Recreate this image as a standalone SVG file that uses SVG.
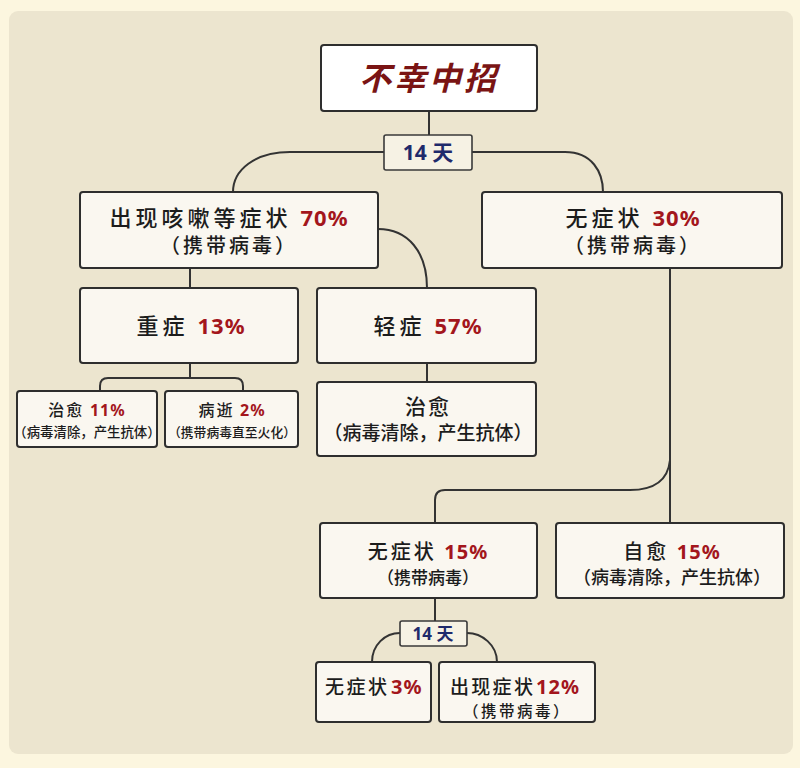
<svg xmlns="http://www.w3.org/2000/svg" width="800" height="768" viewBox="0 0 800 768">
<style>
.box{fill:#faf7f0;stroke:#2e2e2e;stroke-width:2}
.lbl{fill:#f6f2e4;stroke:#3a3a3a;stroke-width:1.6}
.t{font-family:"Noto Sans CJK SC",sans-serif;fill:#1c1c1c;font-weight:500}
.n{font-family:"Noto Sans","Noto Sans CJK SC",sans-serif;font-weight:700;fill:#a3161c;letter-spacing:1px}
.d{font-family:"Noto Sans","Noto Sans CJK SC",sans-serif;font-weight:700;fill:#1f2a6b}
#connectors path{fill:none;stroke:#333;stroke-width:2}
</style>
<rect x="0" y="0" width="800" height="768" fill="#fcf6df"/>
<rect x="9" y="11" width="784" height="743" rx="9" fill="#ece5cf"/>

<g id="connectors">
<path d="M429,111 V135"/>
<path d="M384,152 H290 C255,152 233,170 233,192"/>
<path d="M472,152 H565 C592,152 603,172 603,192"/>
<path d="M378,229 C408,229 427,252 427,288"/>
<path d="M190,268 V288"/>
<path d="M427,363 V382"/>
<path d="M190,363 V378 M100,391 V386 Q100,378 108,378 H235 Q243,378 243,386 V391"/>
<path d="M670,268 V523"/>
<path d="M670,460 C668,480 655,490 630,490 H445 Q435,490 435,500 V523"/>
<path d="M435,598 V621"/>
<path d="M400,633 C385,633 372,645 372,662"/>
<path d="M467,633 C482,633 497,645 497,662"/>
</g>

<g id="n-top">
<rect x="321" y="45" width="216" height="66" rx="3" fill="#ffffff" stroke="#2e2e2e" stroke-width="2"/>
<text x="429" y="90" text-anchor="middle" font-family="Noto Sans CJK SC,sans-serif" font-size="32" font-weight="700" font-style="italic" fill="#7a1414" letter-spacing="3">不幸中招</text>
</g>

<g id="n-14a">
<rect class="lbl" x="384" y="135" width="88" height="35" rx="2"/>
<text class="d" x="428" y="160" text-anchor="middle" font-size="21">14 天</text>
</g>

<g id="n-sym">
<rect class="box" x="80" y="192" width="298" height="76" rx="3"/>
<text class="t" x="229" y="226" text-anchor="middle" font-size="22" letter-spacing="4">出现咳嗽等症状 <tspan class="n">70%</tspan></text>
<text class="t" x="229" y="253" text-anchor="middle" font-size="20" letter-spacing="3">（携带病毒）</text>
</g>

<g id="n-asym">
<rect class="box" x="482" y="192" width="300" height="76" rx="3"/>
<text class="t" x="633" y="226" text-anchor="middle" font-size="22" letter-spacing="4">无症状 <tspan class="n">30%</tspan></text>
<text class="t" x="633" y="253" text-anchor="middle" font-size="20" letter-spacing="3">（携带病毒）</text>
</g>

<g id="n-severe">
<rect class="box" x="80" y="288" width="218" height="75" rx="3"/>
<text class="t" x="191" y="334" text-anchor="middle" font-size="22" letter-spacing="4">重症 <tspan class="n">13%</tspan></text>
</g>

<g id="n-mild">
<rect class="box" x="317" y="288" width="219" height="75" rx="3"/>
<text class="t" x="428" y="334" text-anchor="middle" font-size="22" letter-spacing="4">轻症 <tspan class="n">57%</tspan></text>
</g>

<g id="n-mild-cure">
<rect class="box" x="317" y="382" width="219" height="74" rx="3"/>
<text class="t" x="428" y="414" text-anchor="middle" font-size="21" letter-spacing="2">治愈</text>
<text class="t" x="428" y="440" text-anchor="middle" font-size="19">（病毒清除，产生抗体）</text>
</g>

<g id="n-sev-cure">
<rect class="box" x="17" y="391" width="140" height="56" rx="3"/>
<text class="t" x="87" y="416" text-anchor="middle" font-size="16" letter-spacing="2">治愈 <tspan class="n">11%</tspan></text>
<text class="t" x="87" y="437" text-anchor="middle" font-size="13.4">（病毒清除，产生抗体）</text>
</g>

<g id="n-sev-death">
<rect class="box" x="165" y="391" width="133" height="56" rx="3"/>
<text class="t" x="232" y="416" text-anchor="middle" font-size="16" letter-spacing="2">病逝 <tspan class="n">2%</tspan></text>
<text class="t" x="232" y="437" text-anchor="middle" font-size="12.8">（携带病毒直至火化）</text>
</g>

<g id="n-asym15">
<rect class="box" x="320" y="523" width="217" height="75" rx="3"/>
<text class="t" x="428" y="559" text-anchor="middle" font-size="20" letter-spacing="3">无症状 <tspan class="n">15%</tspan></text>
<text class="t" x="428" y="584" text-anchor="middle" font-size="17">（携带病毒）</text>
</g>

<g id="n-selfcure">
<rect class="box" x="556" y="523" width="228" height="75" rx="3"/>
<text class="t" x="672" y="559" text-anchor="middle" font-size="20" letter-spacing="3">自愈 <tspan class="n">15%</tspan></text>
<text class="t" x="672" y="584" text-anchor="middle" font-size="18">（病毒清除，产生抗体）</text>
</g>

<g id="n-14b">
<rect class="lbl" x="400" y="621" width="67" height="25" rx="2"/>
<text class="d" x="433" y="640" text-anchor="middle" font-size="17">14 天</text>
</g>

<g id="n-asym3">
<rect class="box" x="316" y="662" width="115" height="60" rx="3"/>
<text class="t" x="325" y="694" font-size="19" letter-spacing="2.5">无症状</text>
<text class="n" x="391" y="694" font-size="20">3%</text>
</g>

<g id="n-sym12">
<rect class="box" x="439" y="662" width="156" height="60" rx="3"/>
<text class="t" x="450" y="694" font-size="19" letter-spacing="2.3">出现症状</text>
<text class="n" x="536" y="694" font-size="20">12%</text>
<text class="t" x="517" y="717" text-anchor="middle" font-size="15.5" letter-spacing="2.5">（携带病毒）</text>
</g>
</svg>
